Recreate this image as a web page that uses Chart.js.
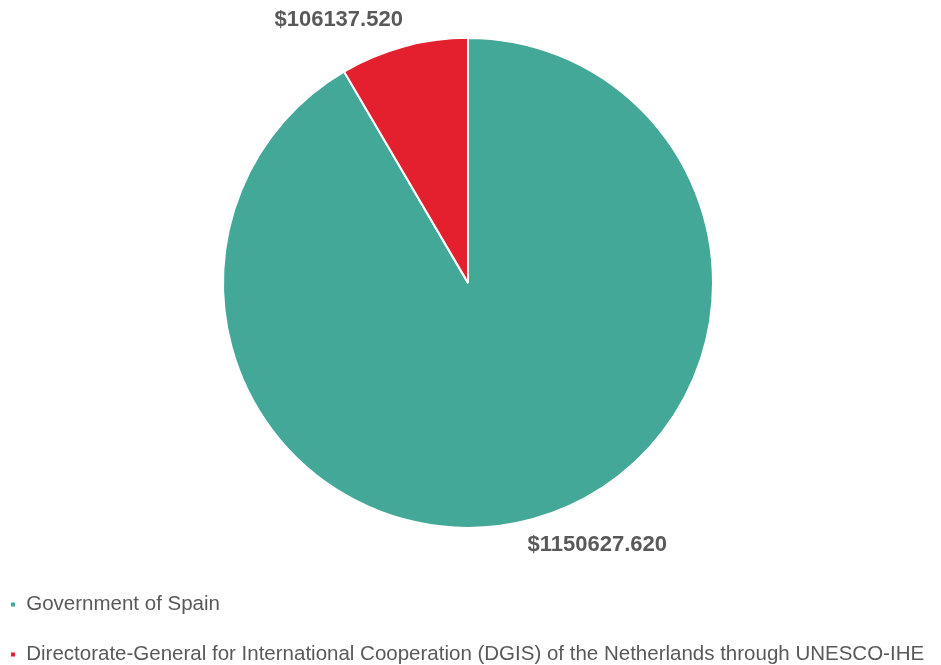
<!DOCTYPE html>
<html>
<head>
<meta charset="utf-8">
<script src="https://cdn.jsdelivr.net/npm/chart.js@4/dist/chart.umd.min.js"></script>
<style>
  html, body { margin: 0; padding: 0; background: #fff; }
  #wrap { width: 941px; height: 665px; }
</style>
</head>
<body>
<div id="wrap"><canvas id="donorChart"></canvas></div>
<script>
// ========================
// DATA
// ========================
const donors = [
  'Government of Spain',
  'Directorate-General for International Cooperation (DGIS) of the Netherlands through UNESCO-IHE'
];
const amounts = [1150627.620, 106137.520];
const sliceColors = ['#43A897', '#E5202E'];

// value labels outside each slice
const outsideLabels = {
  id: 'outsideLabels',
  afterDatasetsDraw(chart) {
    const ctx = chart.ctx;
    const meta = chart.getDatasetMeta(0);
    ctx.save();
    ctx.font = 'bold 22px "Liberation Sans", Arial, sans-serif';
    ctx.fillStyle = '#595959';
    ctx.textAlign = 'center';
    ctx.textBaseline = 'middle';
    meta.data.forEach((arc, i) => {
      const p = arc.getProps(['x', 'y', 'startAngle', 'endAngle', 'outerRadius'], true);
      const mid = (p.startAngle + p.endAngle) / 2;
      const r = p.outerRadius + 27;
      let x = p.x + Math.cos(mid) * r;
      const y = p.y + Math.sin(mid) * r;
      x += (x < p.x) ? -58 : 58;
      ctx.fillText('$' + amounts[i].toFixed(3), x, y);
    });
    ctx.restore();
  }
};

// ========================
// CHART
// ========================
new Chart(document.getElementById('donorChart'), {
  type: 'pie',
  data: {
    labels: donors,
    datasets: [{
      data: amounts,
      backgroundColor: sliceColors,
      borderColor: '#ffffff',
      borderWidth: 2,
      radius: 245
    }]
  },
  options: {
    responsive: true,
    maintainAspectRatio: false,
    animation: false,
    layout: { padding: { top: 1, left: -19.5, right: 5, bottom: -9.75 } },
    plugins: {
      tooltip: { enabled: false },
      legend: {
        position: 'bottom',
        align: 'start',
        labels: {
          boxWidth: 6,
          boxHeight: 6,
          padding: 29.5,
          color: '#595959',
          font: { size: 20.5, family: '"Liberation Sans", Arial, sans-serif' }
        }
      }
    }
  },
  plugins: [outsideLabels]
});
</script>
</body>
</html>
